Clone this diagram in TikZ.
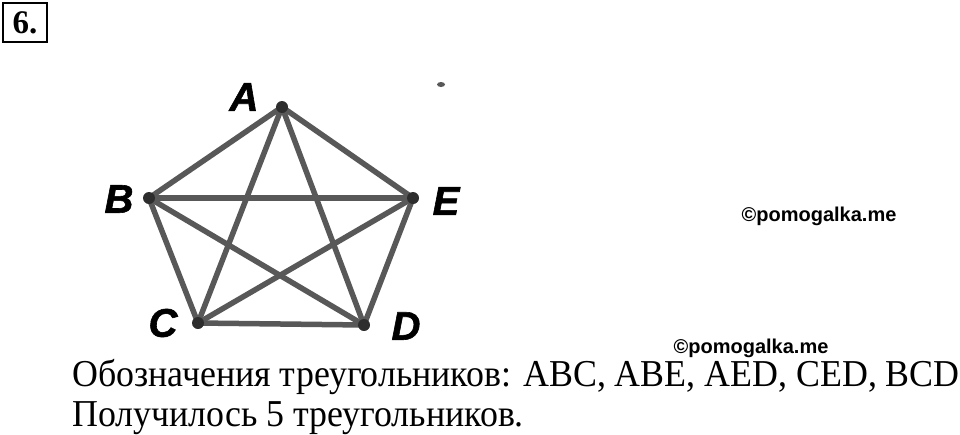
\documentclass[tikz,border=0pt]{standalone}
\usepackage{fontspec}
\setmainfont{Liberation Serif}
\newfontfamily\labelfont{Liberation Sans}
\newfontfamily\letterfont[FakeBold=1.5]{Liberation Sans Bold Italic}
\usetikzlibrary{positioning}
\definecolor{edgegray}{RGB}{88,88,88}
\definecolor{dotgray}{RGB}{45,45,45}

\begin{document}
\begin{tikzpicture}[x=1pt,y=-1pt,
  side/.style={draw=edgegray,line width=5.5pt},
  vertex/.style={circle,fill=dotgray,inner sep=0pt,minimum size=12pt},
  letter/.style={font=\letterfont\fontsize{40}{40}\selectfont,inner sep=0pt},
  wmark/.style={font=\labelfont\bfseries\fontsize{20}{20}\selectfont,inner sep=0pt},
  textline/.style={font=\fontsize{38}{40}\selectfont,inner sep=0pt,anchor=base west}]
\useasboundingbox (0,0) rectangle (960,434);

\node[draw,line width=2pt,minimum width=44pt,minimum height=39pt,inner sep=0pt,
  font=\bfseries\fontsize{33}{33}\selectfont] (num) at (25,22.5) {6.};

\coordinate (A) at (282,107);
\coordinate (B) at (149,198);
\coordinate (E) at (413,198);
\coordinate (C) at (198,323);
\coordinate (D) at (364,325);

\draw[side] (A) -- (B);
\draw[side] (A) -- (E);
\draw[side] (A) -- (C);
\draw[side] (A) -- (D);
\draw[side] (B) -- (E);
\draw[side] (B) -- (C);
\draw[side] (B) -- (D);
\draw[side] (E) -- (C);
\draw[side] (E) -- (D);
\draw[side] (C) -- (D);

\node[vertex] (vA) at (A) {};
\node[vertex] (vB) at (B) {};
\node[vertex] (vE) at (E) {};
\node[vertex] (vC) at (C) {};
\node[vertex] (vD) at (D) {};

\node[letter] (lA) at (244,97) {A};
\node[letter] (lB) at (119,199) {B};
\node[letter] (lE) at (446,201) {E};
\node[letter] (lC) at (163,323) {C};
\node[letter] (lD) at (406,326) {D};

\fill[edgegray] (441,84.5) ellipse (4pt and 2.5pt);

\node[wmark] (m1) at (819,216) {©pomogalka.me};
\node[wmark] (m2) at (751,348) {©pomogalka.me};

\node[textline] (t1) at (72,386.5) {\scalebox{0.944}[1]{Обозначения треугольников: ABC, ABE, AED, CED, BCD}};
\node[textline] (t2) at (72,426) {\scalebox{0.944}[1]{Получилось 5 треугольников.}};
\end{tikzpicture}
\end{document}
